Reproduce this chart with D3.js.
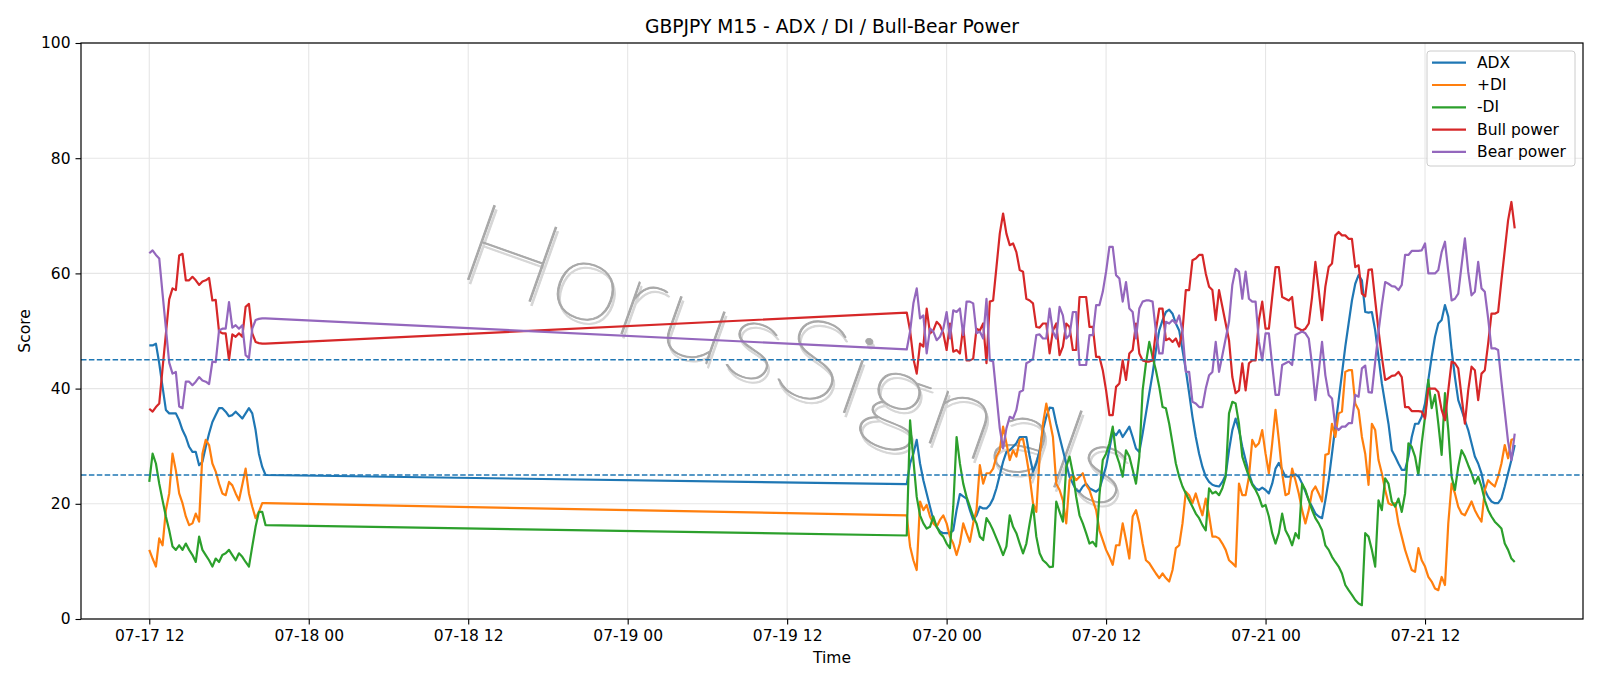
<!DOCTYPE html>
<html>
<head>
<meta charset="utf-8">
<script src="https://cdn.jsdelivr.net/npm/d3@7"></script>
<style>
  body { margin: 0; background: #fff; }
  #chart { width: 1600px; height: 686px; }
  text { font-family: "DejaVu Sans", sans-serif; }
</style>
</head>
<body>
<div id="chart"></div>
<script>
//// data: two M15 sessions
var sessions = [["2025-07-17 12:00", 36], ["2025-07-19 21:00", 184]];

var adx = [47.5, 47.5, 47.8, 44.4, 40.3, 36.3, 35.7, 35.7, 35.7, 34.5, 32.8, 31.6, 29.9, 29.0, 29.0, 26.7, 27.3, 29.9, 32.2, 34.2, 35.4, 36.6, 36.6, 36.0, 35.2, 35.4, 36.0, 35.4, 34.8, 35.7, 36.6, 35.7, 32.8, 28.7, 26.4, 25.0,
  23.4, 27.0, 28.7, 31.1, 27.0, 24.1, 21.8, 19.5, 17.2, 16.0, 15.2, 14.9, 14.9, 14.9, 15.4, 18.9, 21.7, 21.3, 20.9, 18.9, 17.2, 18.0, 19.5, 19.2, 19.2, 19.8, 20.9, 22.7, 25.0, 27.3, 29.0, 29.3, 29.9, 30.5, 31.6, 31.6, 31.6, 28.2, 25.6, 27.0, 29.3, 32.8, 35.1, 36.7, 36.6,
  33.9, 31.6, 29.3, 27.0, 24.7, 23.5, 22.4, 22.1, 23.0, 23.5, 22.7, 22.4, 22.1, 22.6, 24.5, 26.5, 29.5, 32.5, 31.9, 32.8, 31.6, 32.5, 33.4, 31.6, 29.6, 29.0, 32.2, 35.7, 39.2, 42.6, 46.7, 50.1, 51.9, 53.3, 53.7, 53.0, 51.3, 50.1, 46.7, 43.2, 39.2, 35.1, 31.6, 28.7, 26.4, 24.7, 23.8,
  23.3, 23.1, 23.0, 23.8, 25.0, 29.3, 32.8, 34.8, 32.8, 29.9, 27.6, 25.3, 23.5, 22.7, 22.4, 22.8, 22.4, 21.8, 23.5, 26.1, 27.1, 25.9, 24.7, 24.7, 24.8, 25.1, 24.7, 23.5, 22.1, 20.6, 19.5, 18.3, 17.8, 17.5, 20.6, 24.1, 28.7, 33.4, 38.0, 42.6, 47.3, 51.3, 55.3, 58.2, 59.7, 58.8,
  53.3, 53.2, 53.3, 50.1, 45.5, 40.9, 37.4, 33.9, 29.3, 28.2, 27.0, 25.9, 25.9, 28.2, 31.6, 33.9, 33.9, 35.1, 37.4, 41.5, 45.5, 49.0, 51.3, 51.9, 54.5, 52.5, 46.7, 42.0, 38.0, 36.3, 34.5, 32.8, 30.5, 28.2, 27.0, 25.3, 22.4, 21.2, 20.4, 20.1, 20.1, 20.9, 23.0, 25.3, 27.6, 30.2];

var plusDI = [12.0, 10.5, 9.1, 14.0, 12.8, 18.9, 21.8, 28.7, 25.8, 21.8, 20.1, 17.8, 16.3, 16.6, 18.3, 16.9, 28.7, 31.1, 30.2, 27.0, 25.6, 23.5, 21.8, 21.5, 23.8, 23.2, 21.8, 20.6, 23.3, 26.1, 21.8, 19.5, 17.5, 18.6, 20.1, 20.1,
  18.0, 12.6, 10.2, 8.5, 20.4, 18.9, 19.8, 17.8, 16.6, 16.0, 17.2, 18.0, 16.6, 14.3, 13.1, 11.1, 13.1, 16.6, 14.9, 13.4, 16.6, 18.9, 26.7, 23.5, 25.3, 25.3, 26.1, 28.2, 29.3, 33.4, 30.5, 27.6, 29.3, 28.2, 31.1, 31.3, 28.2, 24.7, 20.1, 18.6, 28.2, 33.9, 37.4, 34.5, 31.6,
  23.5, 22.4, 20.6, 16.6, 24.1, 25.0, 24.1, 24.7, 25.3, 23.3, 22.4, 20.6, 18.9, 15.4, 13.7, 12.0, 10.8, 9.4, 12.8, 12.8, 16.6, 13.7, 10.5, 17.8, 18.9, 16.6, 13.1, 10.2, 9.7, 8.8, 7.9, 7.1, 7.9, 7.1, 6.5, 8.5, 12.3, 12.8, 16.6, 22.1, 21.5, 20.1, 21.8, 19.8, 18.0, 20.9, 18.0,
  14.3, 14.3, 14.0, 13.1, 12.0, 10.2, 9.7, 9.1, 23.5, 21.5, 21.5, 24.7, 31.1, 29.9, 30.5, 32.8, 28.7, 25.3, 30.5, 36.3, 31.1, 25.3, 21.5, 21.8, 26.1, 24.1, 21.8, 18.9, 16.6, 18.9, 22.1, 23.0, 21.8, 20.4, 28.5, 28.7, 33.9, 31.6, 35.7, 36.0, 42.9, 43.2, 43.2, 37.4, 36.3, 31.6,
  28.7, 23.3, 33.9, 32.8, 27.6, 25.3, 22.4, 20.1, 19.8, 20.1, 16.6, 14.3, 12.0, 10.2, 8.5, 8.2, 12.3, 10.2, 9.1, 7.3, 6.5, 5.3, 5.0, 7.3, 5.9, 16.6, 23.5, 21.8, 19.5, 18.3, 18.0, 19.2, 20.4, 18.9, 17.8, 16.9, 22.4, 24.1, 23.5, 23.0, 24.7, 27.0, 30.2, 27.9, 31.1, 31.3];

var minusDI = [23.8, 28.7, 27.0, 23.5, 20.6, 17.8, 15.4, 12.6, 12.0, 12.8, 12.0, 13.1, 12.0, 11.1, 9.9, 14.3, 12.0, 11.1, 10.2, 9.1, 10.5, 9.9, 11.1, 11.4, 12.0, 11.1, 10.2, 11.4, 10.8, 9.9, 9.1, 12.6, 16.0, 18.6, 18.6, 16.3,
  14.5, 34.5, 27.6, 21.2, 18.0, 16.6, 15.7, 16.0, 17.8, 16.0, 14.9, 14.3, 13.1, 12.3, 19.5, 31.6, 27.0, 23.5, 21.2, 19.5, 17.8, 16.6, 14.3, 13.7, 17.5, 16.6, 15.4, 14.0, 12.6, 11.1, 12.6, 18.0, 16.0, 14.9, 13.1, 11.4, 13.1, 16.6, 19.8, 14.3, 11.4, 10.2, 9.7, 9.0, 9.1,
  20.4, 18.6, 16.9, 26.4, 28.2, 25.3, 21.2, 18.0, 16.6, 14.9, 13.1, 13.4, 12.6, 21.5, 27.6, 28.7, 30.5, 33.4, 28.7, 27.0, 24.7, 29.3, 28.2, 25.9, 23.5, 28.2, 39.7, 44.4, 48.1, 45.5, 43.2, 40.3, 36.8, 36.6, 33.9, 30.5, 27.0, 24.7, 23.0, 21.8, 20.6, 19.5, 18.3, 17.5, 16.3, 15.4, 22.7,
  21.8, 22.1, 21.5, 22.7, 24.7, 35.7, 37.7, 37.4, 33.9, 28.2, 26.4, 24.7, 23.3, 22.4, 21.2, 19.5, 19.8, 17.8, 14.9, 13.1, 14.9, 18.3, 15.4, 14.3, 12.8, 14.9, 14.0, 23.5, 22.4, 20.6, 18.9, 17.5, 16.6, 15.4, 12.8, 12.0, 10.8, 9.9, 9.1, 7.9, 5.9, 5.0, 4.2, 3.3, 2.7, 2.4,
  14.9, 14.3, 12.0, 9.1, 20.6, 18.9, 24.4, 23.5, 20.4, 19.5, 20.9, 18.6, 21.8, 30.5, 29.9, 28.2, 25.0, 30.5, 35.1, 41.5, 36.6, 38.9, 33.9, 28.5, 39.2, 32.8, 24.7, 22.4, 26.4, 29.3, 28.2, 26.7, 25.3, 23.5, 24.7, 23.0, 20.6, 18.9, 17.8, 16.9, 16.3, 15.7, 13.1, 12.0, 10.5, 9.9];

var bullPower = [36.5, 36.0, 36.8, 37.4, 43.5, 49.5, 55.5, 57.4, 57.1, 63.1, 63.4, 58.8, 58.8, 59.4, 58.8, 58.0, 58.6, 58.8, 59.2, 55.3, 55.4, 49.9, 49.6, 49.6, 45.0, 49.4, 49.0, 49.6, 49.0, 54.2, 54.7, 49.6, 48.1, 47.9, 47.8, 47.8,
  53.2, 50.1, 45.2, 42.6, 47.8, 47.3, 53.9, 49.6, 50.1, 51.6, 51.0, 49.6, 46.7, 51.3, 46.4, 46.7, 46.1, 50.7, 44.9, 44.9, 45.2, 50.4, 50.1, 51.3, 44.4, 55.1, 55.3, 61.1, 66.9, 70.4, 66.9, 64.9, 65.2, 63.7, 60.6, 60.3, 55.6, 55.3, 54.8, 50.7, 50.6, 51.3, 51.3, 46.1, 50.1,
  51.3, 45.8, 47.3, 51.3, 50.7, 46.7, 46.7, 55.9, 55.9, 55.9, 50.7, 50.7, 45.5, 45.5, 43.2, 39.7, 35.4, 35.4, 40.3, 40.9, 44.9, 41.5, 46.1, 46.7, 51.3, 46.1, 44.9, 44.7, 44.7, 44.9, 50.1, 53.9, 53.9, 48.4, 48.7, 48.1, 48.7, 47.3, 50.1, 57.1, 57.1, 62.3, 62.6, 63.2, 63.2, 60.0, 57.7,
  57.1, 51.9, 57.1, 54.2, 51.3, 48.4, 42.0, 39.2, 39.7, 44.4, 39.7, 44.4, 44.9, 44.9, 51.9, 55.1, 50.4, 50.4, 55.9, 61.1, 61.1, 55.9, 55.6, 55.3, 55.9, 50.7, 50.4, 50.1, 50.4, 51.3, 55.9, 62.0, 57.1, 51.9, 57.7, 61.1, 61.7, 66.6, 67.2, 66.6, 66.6, 66.0, 66.0, 61.1, 61.4, 56.5,
  56.0, 60.6, 60.7, 55.3, 50.1, 45.5, 41.5, 41.8, 42.2, 42.3, 42.9, 42.0, 36.8, 36.8, 36.1, 36.1, 36.1, 36.0, 34.8, 40.0, 40.0, 40.0, 39.4, 36.3, 34.5, 39.7, 44.7, 44.4, 43.5, 38.6, 33.9, 39.7, 43.8, 43.2, 38.0, 42.6, 43.2, 47.8, 53.0, 53.0, 53.3, 58.8, 64.0, 69.2, 72.4, 67.8];

var bearPower = [63.5, 64.0, 63.2, 62.6, 56.5, 50.5, 44.5, 42.6, 42.9, 36.9, 36.6, 41.2, 41.2, 40.6, 41.2, 42.0, 41.4, 41.2, 40.8, 44.7, 44.6, 50.1, 50.4, 50.4, 55.0, 50.6, 51.0, 50.4, 51.0, 45.8, 45.3, 50.4, 51.9, 52.1, 52.2, 52.2,
  46.8, 49.9, 54.8, 57.4, 52.2, 52.7, 46.1, 50.4, 49.9, 48.4, 49.0, 50.4, 53.3, 48.7, 53.6, 53.3, 53.9, 49.3, 55.1, 55.1, 54.8, 49.6, 49.9, 48.7, 55.6, 44.9, 44.7, 38.9, 33.1, 29.6, 33.1, 35.1, 34.8, 36.3, 39.4, 39.7, 44.4, 44.7, 45.2, 49.3, 49.4, 48.7, 48.7, 53.9, 49.9,
  48.7, 54.2, 52.7, 48.7, 49.3, 53.3, 53.3, 44.1, 44.1, 44.1, 49.3, 49.3, 54.5, 54.5, 56.8, 60.3, 64.6, 64.6, 59.7, 59.1, 55.1, 58.5, 53.9, 53.3, 48.7, 53.9, 55.1, 55.3, 55.3, 55.1, 49.9, 46.1, 46.1, 51.6, 51.3, 51.9, 51.3, 52.7, 49.9, 42.9, 42.9, 37.7, 37.4, 36.8, 36.8, 40.0, 42.3,
  42.9, 48.1, 42.9, 45.8, 48.7, 51.6, 58.0, 60.8, 60.3, 55.6, 60.3, 55.6, 55.1, 55.1, 48.1, 44.9, 49.6, 49.6, 44.1, 38.9, 38.9, 44.1, 44.4, 44.7, 44.1, 49.3, 49.6, 49.9, 49.6, 48.7, 44.1, 38.0, 42.9, 48.1, 42.3, 38.9, 38.3, 33.4, 32.8, 33.4, 33.4, 34.0, 34.0, 38.9, 38.6, 43.5,
  44.0, 39.4, 39.3, 44.7, 49.9, 54.5, 58.5, 58.2, 57.8, 57.7, 57.1, 58.0, 63.2, 63.2, 63.9, 63.9, 63.9, 64.0, 65.2, 60.0, 60.0, 60.0, 60.6, 63.7, 65.5, 60.3, 55.3, 55.6, 56.5, 61.4, 66.1, 60.3, 56.2, 56.8, 62.0, 57.4, 56.8, 52.2, 47.0, 47.0, 46.7, 41.2, 36.0, 30.8, 27.6, 32.2];

var seriesNames = ["ADX", "+DI", "-DI", "Bull power", "Bear power"];
var seriesColors = ["#1f77b4", "#ff7f0e", "#2ca02c", "#d62728", "#9467bd"];
var levels = [45, 25];
var yTicks = [0, 20, 40, 60, 80, 100];

//// timestamps (15 minute bars)
var parseTime = d3.timeParse("%Y-%m-%d %H:%M");
var times = [];
sessions.forEach(function (s) {
  var t0 = parseTime(s[0]);
  for (var i = 0; i < s[1]; i++) times.push(d3.timeMinute.offset(t0, 15 * i));
});

//// chart
var W = 1600, H = 686;
var margin = {top: 43, right: 17, bottom: 67, left: 81},
  width = W - margin.left - margin.right,
  height = H - margin.top - margin.bottom;

var svg = d3.select("#chart")
  .append("svg")
    .attr("width", W)
    .attr("height", H);

var g = svg.append("g")
  .attr("transform", "translate(" + margin.left + "," + margin.top + ")");

var tMin = times[0], tMax = times[times.length - 1];
var pad = (tMax - tMin) * 0.05;
var xScale = d3.scaleTime()
  .domain([new Date(+tMin - pad), new Date(+tMax + pad)])
  .range([0, width]);

var yScale = d3.scaleLinear()
  .domain([0, 100])
  .range([height, 0]);

var xTicks = d3.timeHour.every(12).range(parseTime("2025-07-17 12:00"), d3.timeMinute.offset(tMax, 1));

//// grid
g.append("g")
  .selectAll("line")
  .data(xTicks)
  .enter().append("line")
    .attr("x1", d => xScale(d)).attr("x2", d => xScale(d))
    .attr("y1", 0).attr("y2", height)
    .attr("stroke", "#e6e6e6").attr("stroke-width", 1.1);

g.append("g")
  .selectAll("line")
  .data(yTicks)
  .enter().append("line")
    .attr("x1", 0).attr("x2", width)
    .attr("y1", d => yScale(d)).attr("y2", d => yScale(d))
    .attr("stroke", "#e6e6e6").attr("stroke-width", 1.1);

//// watermark: thin letters with a soft shadow
var wm = g.append("g")
  .attr("transform", "translate(" + (795 - margin.left) + "," + (366 - margin.top) + ") rotate(19.5)");
function wmText(dx, dy, col) {
  return wm.append("text")
    .attr("x", dx).attr("y", dy)
    .attr("text-anchor", "middle")
    .attr("dominant-baseline", "middle")
    .attr("textLength", 705).attr("lengthAdjust", "spacingAndGlyphs")
    .style("font-family", "Lato, sans-serif")
    .style("font-weight", 200)
    .style("font-size", "112px")
    .attr("fill", col)
    .attr("stroke", col)
    .attr("stroke-width", 0.9)
    .text("HorusSignals");
}
wmText(3, 3.5, "#d6d6d6");
wmText(0, 0, "#a8a8a8");

//// lines
var allSeries = [adx, plusDI, minusDI, bullPower, bearPower];
var line = d3.line()
  .x((d, i) => xScale(times[i]))
  .y(d => yScale(d));

allSeries.forEach(function (vals, k) {
  g.append("path")
    .datum(vals)
    .attr("fill", "none")
    .attr("stroke", seriesColors[k])
    .attr("stroke-width", 2.2)
    .attr("stroke-linejoin", "round")
    .attr("d", line);
});

//// threshold lines
g.selectAll(".level")
  .data(levels)
  .enter().append("line")
    .attr("class", "level")
    .attr("x1", 0).attr("x2", width)
    .attr("y1", d => yScale(d)).attr("y2", d => yScale(d))
    .attr("stroke", "#1f77b4")
    .attr("stroke-width", 1.5)
    .attr("stroke-dasharray", "5.5,2.4");

//// axes
var xAxis = g.append("g")
  .attr("transform", "translate(0," + height + ")")
  .call(d3.axisBottom(xScale)
    .tickValues(xTicks)
    .tickFormat(d3.timeFormat("%m-%d %H"))
    .tickSize(5.5)
    .tickPadding(5)
    .tickSizeOuter(0));

var yAxis = g.append("g")
  .call(d3.axisLeft(yScale)
    .tickValues(yTicks)
    .tickSize(5.5)
    .tickPadding(5)
    .tickSizeOuter(0));

[xAxis, yAxis].forEach(function (a) {
  a.select(".domain").remove();
  a.selectAll(".tick line").attr("stroke", "#000").attr("stroke-width", 1.1);
  a.selectAll(".tick text")
    .attr("fill", "#000")
    .style("font-family", "DejaVu Sans, sans-serif")
    .style("font-size", "15.5px");
});

//// frame
g.append("rect")
  .attr("width", width).attr("height", height)
  .attr("fill", "none")
  .attr("stroke", "#000")
  .attr("stroke-width", 1.2);

//// labels
svg.append("text")
  .attr("x", margin.left + width / 2).attr("y", 32.5)
  .attr("text-anchor", "middle")
  .style("font-size", "18.7px")
  .text("GBPJPY M15 - ADX / DI / Bull-Bear Power");

svg.append("text")
  .attr("x", margin.left + width / 2).attr("y", 663)
  .attr("text-anchor", "middle")
  .style("font-size", "15.5px")
  .text("Time");

svg.append("text")
  .attr("transform", "translate(30," + (margin.top + height / 2) + ") rotate(-90)")
  .attr("text-anchor", "middle")
  .style("font-size", "15.5px")
  .text("Score");

//// legend
var legend = svg.append("g").attr("transform", "translate(1427,51)");
legend.append("rect")
  .attr("width", 148).attr("height", 115)
  .attr("rx", 3)
  .attr("fill", "#fff").attr("fill-opacity", 0.8)
  .attr("stroke", "#cccccc");

var rows = legend.selectAll(".row")
  .data(seriesNames)
  .enter().append("g")
    .attr("transform", (d, i) => "translate(0," + (11.7 + i * 22.3) + ")");
rows.append("line")
  .attr("x1", 5).attr("x2", 39)
  .attr("stroke", (d, i) => seriesColors[i])
  .attr("stroke-width", 2.2);
rows.append("text")
  .attr("x", 50).attr("y", 0)
  .attr("dominant-baseline", "central")
  .style("font-size", "15.5px")
  .text(d => d);
</script>
</body>
</html>
